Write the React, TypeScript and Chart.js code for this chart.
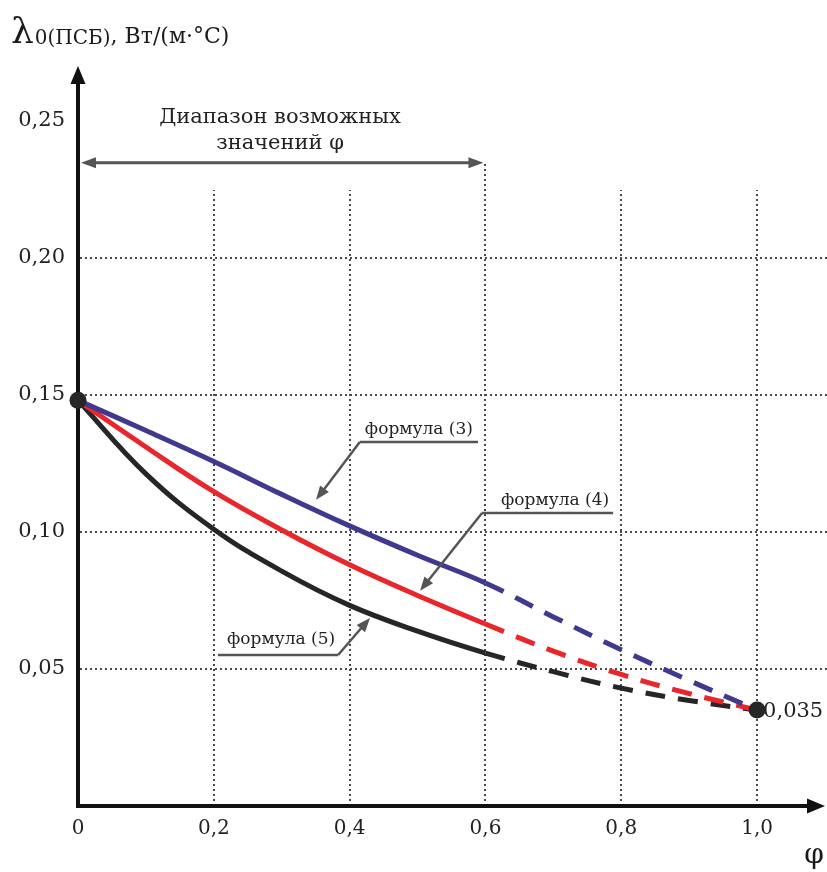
import React, { useEffect, useRef } from "react";
import { Chart, registerables } from "chart.js";

Chart.register(...registerables);

// ---------- data ----------
const PHI = [0, 0.1, 0.2, 0.3, 0.4, 0.5, 0.6, 0.7, 0.8, 0.9, 1.0];
const FORMULA_3 = [0.148, 0.137, 0.1257, 0.1137, 0.1022, 0.0915, 0.0814, 0.069, 0.057, 0.0458, 0.035];
const FORMULA_4 = [0.148, 0.131, 0.1147, 0.1007, 0.088, 0.0768, 0.0664, 0.0565, 0.048, 0.041, 0.035];
const FORMULA_5 = [0.148, 0.1212, 0.101, 0.0857, 0.0732, 0.0638, 0.0558, 0.049, 0.043, 0.0385, 0.035];
const END_POINTS_X = [0, 1.0];
const END_POINTS_Y = [0.148, 0.035];
const SOLID_LIMIT = 0.6;

const X_TICKS = [0, 0.2, 0.4, 0.6, 0.8, 1.0];
const X_LABELS = ["0", "0,2", "0,4", "0,6", "0,8", "1,0"];
const Y_TICKS = [0.05, 0.1, 0.15, 0.2, 0.25];
const Y_LABELS = ["0,05", "0,10", "0,15", "0,20", "0,25"];

const Y_TITLE_MAIN = "λ";
const Y_TITLE_SUB = "0(ПСБ)";
const Y_TITLE_UNIT = ", Вт/(м·°С)";
const X_TITLE = "φ";
const RANGE_TEXT = ["Диапазон возможных", "значений φ"];
const END_LABEL = "0,035";
const ANNOT_LABELS = ["формула (3)", "формула (4)", "формула (5)"];

const FONT = '"DejaVu Serif", serif';

export default function App() {
  const ref = useRef<HTMLCanvasElement | null>(null);

  useEffect(() => {
    const canvas = ref.current;
    if (!canvas) return;

    const arrowHead = (ctx: CanvasRenderingContext2D, x1: number, y1: number, x2: number, y2: number, len: number, half: number) => {
      const a = Math.atan2(y2 - y1, x2 - x1);
      ctx.beginPath();
      ctx.moveTo(x2, y2);
      ctx.lineTo(x2 - len * Math.cos(a) + half * Math.sin(a), y2 - len * Math.sin(a) - half * Math.cos(a));
      ctx.lineTo(x2 - len * Math.cos(a) - half * Math.sin(a), y2 - len * Math.sin(a) + half * Math.cos(a));
      ctx.closePath();
      ctx.fill();
    };

    const deco = {
      id: "deco",
      beforeDatasetsDraw(chart: any) {
        const { ctx, chartArea: ca, scales } = chart;
        const x = scales.x, y = scales.y;
        ctx.save();
        // grid
        ctx.strokeStyle = "#4a4a4a";
        ctx.lineWidth = 2;
        ctx.setLineDash([2, 3]);
        Y_TICKS.slice(0, 4).forEach((v) => {
          const py = Math.round(y.getPixelForValue(v));
          ctx.beginPath();
          ctx.moveTo(x.getPixelForValue(0) + 2, py);
          ctx.lineTo(chart.width, py);
          ctx.stroke();
        });
        X_TICKS.slice(1).forEach((v) => {
          const px = Math.round(x.getPixelForValue(v));
          const top = v === SOLID_LIMIT ? 0.2347 : 0.2248;
          ctx.beginPath();
          ctx.moveTo(px, y.getPixelForValue(0));
          ctx.lineTo(px, y.getPixelForValue(top));
          ctx.stroke();
        });
        ctx.setLineDash([]);
        // axes
        const x0 = x.getPixelForValue(0);
        const y0 = y.getPixelForValue(0);
        ctx.strokeStyle = "#111";
        ctx.fillStyle = "#111";
        ctx.lineWidth = 4;
        ctx.beginPath();
        ctx.moveTo(x0, y0 + 2);
        ctx.lineTo(x0, ca.top + 14);
        ctx.stroke();
        arrowHead(ctx, x0, ca.top + 20, x0, ca.top, 18, 7.5);
        ctx.beginPath();
        ctx.moveTo(x0 - 2, y0);
        ctx.lineTo(ca.right - 14, y0);
        ctx.stroke();
        arrowHead(ctx, ca.right - 20, y0, ca.right, y0, 18, 7.5);
        ctx.restore();
      },
      afterDatasetsDraw(chart: any) {
        const { ctx, scales } = chart;
        const x = scales.x, y = scales.y;
        const P = (vx: number, vy: number) => [x.getPixelForValue(vx), y.getPixelForValue(vy)];
        ctx.save();
        // y title
        ctx.fillStyle = "#1a1a1a";
        ctx.textBaseline = "alphabetic";
        ctx.textAlign = "left";
        let tx = 11;
        const ty = 43;
        ctx.font = `36px ${FONT}`;
        ctx.fillText(Y_TITLE_MAIN, tx, ty);
        tx += ctx.measureText(Y_TITLE_MAIN).width + 1;
        ctx.font = `20px ${FONT}`;
        ctx.fillText(Y_TITLE_SUB, tx, ty + 1);
        tx += ctx.measureText(Y_TITLE_SUB).width;
        ctx.font = `22px ${FONT}`;
        ctx.fillText(Y_TITLE_UNIT, tx, ty);
        // x title
        ctx.font = `28px ${FONT}`;
        ctx.textAlign = "center";
        ctx.textBaseline = "middle";
        ctx.fillText(X_TITLE, 814, 856);

        // range arrow
        ctx.strokeStyle = "#555";
        ctx.fillStyle = "#555";
        ctx.lineWidth = 3;
        const [ra, ry] = P(0, 0.2347);
        const [rb] = P(0.597, 0.2347);
        ctx.beginPath();
        ctx.moveTo(ra + 10, ry);
        ctx.lineTo(rb - 10, ry);
        ctx.stroke();
        arrowHead(ctx, ra + 20, ry, ra + 3, ry, 15, 5.5);
        arrowHead(ctx, rb - 20, ry, rb, ry, 15, 5.5);
        ctx.fillStyle = "#222";
        ctx.font = `21px ${FONT}`;
        const [rtx, rty1] = P(0.2975, 0.2512);
        const [, rty2] = P(0.2975, 0.2417);
        ctx.fillText(RANGE_TEXT[0], rtx, rty1);
        ctx.fillText(RANGE_TEXT[1], rtx, rty2);

        // annotations
        const annots = [
          { label: ANNOT_LABELS[0], tx: 0.502, ty: 0.1372, ux1: 0.415, ux2: 0.589, uy: 0.1328, tipX: 0.3505, tipY: 0.1117, start: 0.415 },
          { label: ANNOT_LABELS[1], tx: 0.7025, ty: 0.1113, ux1: 0.595, ux2: 0.788, uy: 0.1069, tipX: 0.5037, tipY: 0.0785, start: 0.595 },
          { label: ANNOT_LABELS[2], tx: 0.299, ty: 0.0609, ux1: 0.206, ux2: 0.383, uy: 0.0551, tipX: 0.43, tipY: 0.0686, start: 0.383 },
        ];
        annots.forEach((a) => {
          ctx.strokeStyle = "#555";
          ctx.fillStyle = "#555";
          ctx.lineWidth = 2.5;
          const [u1, uy] = P(a.ux1, a.uy);
          const [u2] = P(a.ux2, a.uy);
          const [sx] = P(a.start, a.uy);
          const [tpx, tpy] = P(a.tipX, a.tipY);
          ctx.beginPath();
          ctx.moveTo(u1, uy);
          ctx.lineTo(u2, uy);
          ctx.stroke();
          const ang = Math.atan2(tpy - uy, tpx - sx);
          ctx.beginPath();
          ctx.moveTo(sx, uy);
          ctx.lineTo(tpx - 10 * Math.cos(ang), tpy - 10 * Math.sin(ang));
          ctx.stroke();
          arrowHead(ctx, sx, uy, tpx, tpy, 14, 5.5);
          ctx.fillStyle = "#222";
          ctx.font = `17px ${FONT}`;
          const [ttx, tty] = P(a.tx, a.ty);
          ctx.textAlign = "center";
          ctx.textBaseline = "middle";
          ctx.fillText(a.label, ttx, tty);
        });

        // end label
        const [ex, ey] = P(END_POINTS_X[1], END_POINTS_Y[1]);
        ctx.fillStyle = "#222";
        ctx.font = `21px ${FONT}`;
        ctx.textAlign = "left";
        ctx.textBaseline = "middle";
        ctx.fillText(END_LABEL, ex + 6, ey + 1);
        ctx.restore();
      },
    };

    const dash = (c: any) => (c.p0.parsed.x >= SOLID_LIMIT - 1e-9 ? [20, 13] : undefined);
    const lineDs = (label: string, data: number[], color: string, order: number) => ({
      type: "line" as const,
      label,
      data: PHI.map((p, i) => ({ x: p, y: data[i] })),
      borderColor: color,
      backgroundColor: color,
      borderWidth: 5,
      pointRadius: 0,
      tension: 0.4,
      segment: { borderDash: dash },
      clip: false as any,
      order,
    });

    const chart = new Chart(canvas, {
      type: "line",
      data: {
        datasets: [
          {
            type: "scatter" as any,
            label: "points",
            data: END_POINTS_X.map((p, i) => ({ x: p, y: END_POINTS_Y[i] })),
            pointRadius: 8.5,
            pointBackgroundColor: "#262626",
            pointBorderWidth: 0,
            showLine: false,
            clip: false as any,
            order: 0,
          } as any,
          lineDs("формула (3)", FORMULA_3, "#3f3a8e", 1),
          lineDs("формула (4)", FORMULA_4, "#e8262b", 2),
          lineDs("формула (5)", FORMULA_5, "#262626", 3),
        ],
      },
      options: {
        responsive: false,
        animation: false,
        layout: { autoPadding: false, padding: { top: 66, right: 2, left: 0, bottom: 0 } },
        plugins: { legend: { display: false }, tooltip: { enabled: false } },
        scales: {
          x: {
            type: "linear",
            min: 0,
            max: 1.1,
            grid: { display: false, drawTicks: false },
            border: { display: false },
            afterBuildTicks: (s: any) => {
              s.ticks = X_TICKS.map((v) => ({ value: v }));
            },
            afterFit: (s: any) => {
              s.height = 66;
              s.paddingLeft = 0;
              s.paddingRight = 0;
            },
            ticks: {
              autoSkip: false,
              maxRotation: 0,
              padding: 11,
              color: "#222",
              font: { family: "DejaVu Serif", size: 20 },
              callback: (v: any) => {
                const i = X_TICKS.findIndex((t) => Math.abs(t - Number(v)) < 1e-9);
                return i >= 0 ? X_LABELS[i] : "";
              },
            },
          },
          y: {
            type: "linear",
            min: 0,
            max: 0.27,
            grid: { display: false, drawTicks: false },
            border: { display: false },
            afterBuildTicks: (s: any) => {
              s.ticks = Y_TICKS.map((v) => ({ value: v }));
            },
            afterFit: (s: any) => {
              s.width = 78;
              s.paddingTop = 0;
              s.paddingBottom = 0;
            },
            ticks: {
              autoSkip: false,
              padding: 13,
              color: "#222",
              font: { family: "DejaVu Serif", size: 21 },
              callback: (v: any) => {
                const i = Y_TICKS.findIndex((t) => Math.abs(t - Number(v)) < 1e-9);
                return i >= 0 ? Y_LABELS[i] : "";
              },
            },
          },
        },
      },
      plugins: [deco],
    });

    return () => chart.destroy();
  }, []);

  return (
    <div style={{ position: "absolute", left: 0, top: 0, width: 827, height: 872, background: "#fff" }}>
      <canvas ref={ref} width={827} height={872} style={{ display: "block" }} />
    </div>
  );
}
